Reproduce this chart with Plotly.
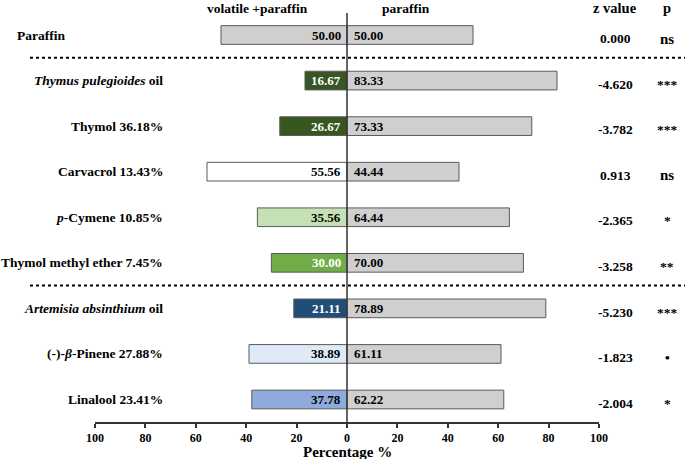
import plotly.graph_objects as go

labels = ["Paraffin", "<i>Thymus pulegioides</i> oil", "Thymol 36.18%", "Carvacrol 13.43%",
          "<i>p</i>-Cymene 10.85%", "Thymol methyl ether 7.45%", "<i>Artemisia absinthium</i> oil",
          "(-)-<i>β</i>-Pinene 27.88%", "Linalool 23.41%"]
volatile = [50.00, 16.67, 26.67, 55.56, 35.56, 30.00, 21.11, 38.89, 37.78]
paraffin = [50.00, 83.33, 73.33, 44.44, 64.44, 70.00, 78.89, 61.11, 62.22]
z_values = ["0.000", "-4.620", "-3.782", "0.913", "-2.365", "-3.258", "-5.230", "-1.823", "-2.004"]
p_values = ["ns", "***", "***", "ns", "*", "**", "***", "•", "*"]
left_colors = ["#d0cece", "#375623", "#38571f", "#ffffff", "#c5e0b4", "#70ad47", "#1f4e79", "#deebf7", "#8faadc"]
left_text_colors = ["black", "white", "white", "black", "black", "white", "white", "black", "black"]
tick_vals = [-100, -80, -60, -40, -20, 0, 20, 40, 60, 80, 100]
tick_text = ["100", "80", "60", "40", "20", "0", "20", "40", "60", "80", "100"]

FONT = "Liberation Serif"
ys = list(range(len(labels)))

fig = go.Figure()
fig.add_trace(go.Bar(y=ys, x=[-v for v in volatile], orientation="h", width=0.41,
                     marker=dict(color=left_colors, line=dict(color="#5a5a5a", width=1)),
                     hoverinfo="skip", showlegend=False))
fig.add_trace(go.Bar(y=ys, x=paraffin, orientation="h", width=0.41,
                     marker=dict(color="#d0cece", line=dict(color="#5a5a5a", width=1)),
                     hoverinfo="skip", showlegend=False))

ann = []
for i in ys:
    ann.append(dict(x=-1.6, y=i, xref="x", yref="y", text=f"<b>{volatile[i]:.2f}</b>", showarrow=False,
                    xanchor="right", font=dict(family=FONT, size=13, color=left_text_colors[i])))
    ann.append(dict(x=1.8, y=i, xref="x", yref="y", text=f"<b>{paraffin[i]:.2f}</b>", showarrow=False,
                    xanchor="left", font=dict(family=FONT, size=13, color="black")))
    lx = -0.056 if i == 0 else 0.139
    ann.append(dict(x=lx, y=i, xref="paper", yref="y", text=f"<b>{labels[i]}</b>", showarrow=False,
                    xanchor="right", font=dict(family=FONT, size=13.5, color="black")))
    ann.append(dict(x=1.032, y=i + 0.08, xref="paper", yref="y", text=f"<b>{z_values[i]}</b>", showarrow=False,
                    xanchor="center", font=dict(family=FONT, size=13.5, color="black")))
    psize = 15 if p_values[i] == "ns" else 13.5
    ann.append(dict(x=1.135, y=i + 0.08, xref="paper", yref="y", text=f"<b>{p_values[i]}</b>", showarrow=False,
                    xanchor="center", font=dict(family=FONT, size=psize, color="black")))

# headers
ann.append(dict(x=-35.5, y=1.012, xref="x", yref="paper", text="<b>volatile +paraffin</b>", showarrow=False,
                xanchor="center", yanchor="middle", font=dict(family=FONT, size=13.5, color="black")))
ann.append(dict(x=23.5, y=1.012, xref="x", yref="paper", text="<b>paraffin</b>", showarrow=False,
                xanchor="center", yanchor="middle", font=dict(family=FONT, size=13.5, color="black")))
ann.append(dict(x=1.032, y=1.012, xref="paper", yref="paper", text="<b>z value</b>", showarrow=False,
                xanchor="center", yanchor="middle", font=dict(family=FONT, size=14.5, color="black")))
ann.append(dict(x=1.135, y=1.012, xref="paper", yref="paper", text="<b>p</b>", showarrow=False,
                xanchor="center", yanchor="middle", font=dict(family=FONT, size=14.5, color="black")))
# x-axis title
ann.append(dict(x=0, y=-0.074, xref="x", yref="paper", text="<b>Percentage %</b>", showarrow=False,
                xanchor="center", yanchor="middle", font=dict(family=FONT, size=15, color="black")))

shapes = [
    dict(type="line", xref="x", yref="paper", x0=0, x1=0, y0=-0.008, y1=1.0,
         line=dict(color="#333333", width=1.5)),
    dict(type="line", xref="paper", yref="y", x0=-0.129, x1=1.175, y0=0.5, y1=0.5,
         line=dict(color="black", width=2, dash="dot")),
    dict(type="line", xref="paper", yref="y", x0=-0.129, x1=1.175, y0=5.5, y1=5.5,
         line=dict(color="black", width=2, dash="dot")),
]

fig.update_layout(
    width=685, height=459,
    margin=dict(l=95, r=86, t=13, b=37, autoexpand=False),
    plot_bgcolor="white", paper_bgcolor="white",
    barmode="overlay",
    annotations=ann, shapes=shapes,
    xaxis=dict(range=[-100, 100], tickvals=tick_vals, ticktext=[f"<b>{t}</b>" for t in tick_text],
               automargin=False,
               showgrid=False, zeroline=False, showline=True, linecolor="#333333", linewidth=1.5,
               ticks="outside", ticklen=4, tickwidth=1.5, tickcolor="#333333",
               ticklabelstandoff=0,
               tickfont=dict(family=FONT, size=12, color="black")),
    yaxis=dict(range=[8.494, -0.483], showgrid=False, zeroline=False, showticklabels=False,
               showline=False, ticks="", automargin=False),
    font=dict(family=FONT),
)

fig.write_html("out.html", config={"displayModeBar": False},
               post_script="document.body.style.margin='0';")
